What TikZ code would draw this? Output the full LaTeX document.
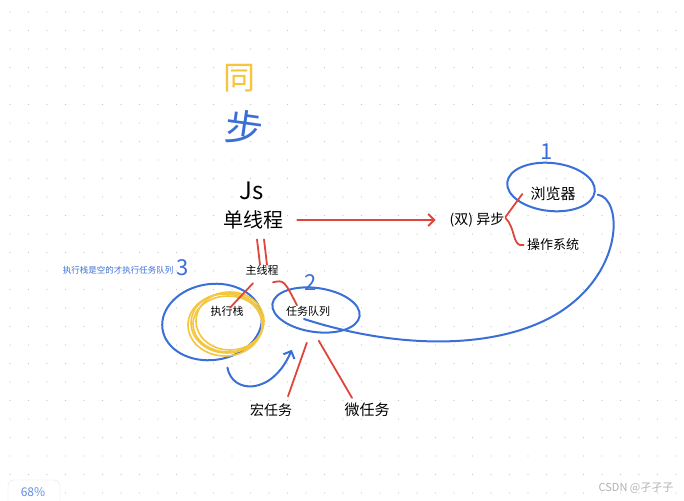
\documentclass[tikz,border=0pt]{standalone}
\usepackage{fontspec}
\setmainfont{Noto Sans CJK SC}
\usetikzlibrary{arrows.meta,shapes.geometric}
\definecolor{penred}{HTML}{E0453C}
\definecolor{penblue}{HTML}{3A6FD8}
\definecolor{penyellow}{HTML}{F4C63D}
\begin{document}
\begin{tikzpicture}[x=1pt,y=-1pt,
 t/.style={inner sep=0,font=\fontsize{#1}{#1}\selectfont},
 r/.style={draw=penred,line width=1.8pt,line cap=round},
 bl/.style={draw=penblue,line width=2pt,line cap=round},
 ring/.style={ellipse,draw=penblue,line width=2pt,inner sep=0},
 a/.style={-{Straight Barb[length=6pt,width=12pt]}}]
\useasboundingbox (0,0) rectangle (684,500);
\fill[white] (0,0) rectangle (684,500);
\foreach \i in {0,...,36}
  \foreach \j in {0,...,26}
    \fill[black!22] (10+18.5*\i,12+18.5*\j) circle (0.7);
% handwritten title
\node[t=32,text=penyellow] (tong) at (239,78) {同};
\node[t=38,text=penblue,rotate=-8] (bu) at (244,128) {步};
\node[t=24] (js) at (252,191) {Js};
% single thread and async
\node[t=20] (single) at (253,220) {单线程};
\node[t=14] (async) at (477,220) {(双) 异步};
\node[t=15] (browser) at (553,194) {浏览器};
\node[t=13] (os) at (553,245) {操作系统};
\node[ring,minimum width=88,minimum height=48,rotate=-6] (ring1) at (551,187) {};
\node[t=22,text=penblue] (one) at (547,152) {1};
\draw[r,a] ([xshift=14]single.east) -- ([xshift=-14]async.west);
\draw[r] ([shift={(1,-3)}]async.east) -- ([xshift=-8]browser.west);
\draw[r] ([shift={(1,-2)}]async.east) .. controls (516,228) and (512,248) .. ([xshift=-3]os.west);
% main thread
\node[t=11] (main) at (262,270) {主线程};
\draw[r] ([shift={(4,10)}]single.south) -- ([xshift=-2]main.north);
\draw[r] ([shift={(11,10)}]single.south) -- ([xshift=5]main.north);
% stack and queue
\node[t=11] (stack) at (227,311) {执行栈};
\node[t=11] (queue) at (308,311) {任务队列};
\node[ring,minimum width=100,minimum height=76,rotate=8] (ring3) at (212,322) {};
\node[ring,minimum width=88,minimum height=44,rotate=-8] (ring2) at (316,310) {};
\foreach \dx/\dy/\w/\h in {0/0/72/60,3/-2/68/58,-2/2/74/62,1/1/70/56}
  \draw[penyellow,line width=1.6pt] (227+\dx,323+\dy) ellipse ({\w/2} and {\h/2});
\node[t=22,text=penblue] (three) at (183,268) {3};
\node[t=22,text=penblue] (two) at (311,283) {2};
\node[t=8.5,text=penblue] (note) at (118,270) {执行栈是空的才执行任务队列};
\draw[r] ([shift={(-9,8)}]main.south) -- ([shift={(3,2)}]stack.north);
\draw[r] ([shift={(11,7)}]main.south) .. controls (284,280) .. ([shift={(-11,-11)}]queue.south);
\draw[bl,a] ([shift={(10,7)}]ring3.south) .. controls (232,394) and (272,396) .. ([shift={(-21,17)}]ring2.south);
% macro and micro tasks
\node[t=14] (macro) at (271,410) {宏任务};
\node[t=15] (micro) at (367,410) {微任务};
\draw[r] ([shift={(-6,10)}]ring2.south) -- ([shift={(17,-7)}]macro.north);
\draw[r] ([shift={(6,8)}]ring2.south) -- ([shift={(-15,-5)}]micro.north);
% browser back to queue
\draw[bl] ([shift={(2,3)}]ring1.east) .. controls (622,198) and (625,270) .. (560,312)
  .. controls (500,350) and (400,350) .. ([shift={(-4,8)}]queue.center);
% page furniture
\draw[black!10,fill=white,rounded corners=6] (8,480) rectangle (60,515);
\node[t=12,text=penblue!80] (zoom) at (33,492) {68\%};
\node[t=11,text=black!30] (mark) at (636,488) {CSDN @孑孑子};
\end{tikzpicture}
\end{document}
